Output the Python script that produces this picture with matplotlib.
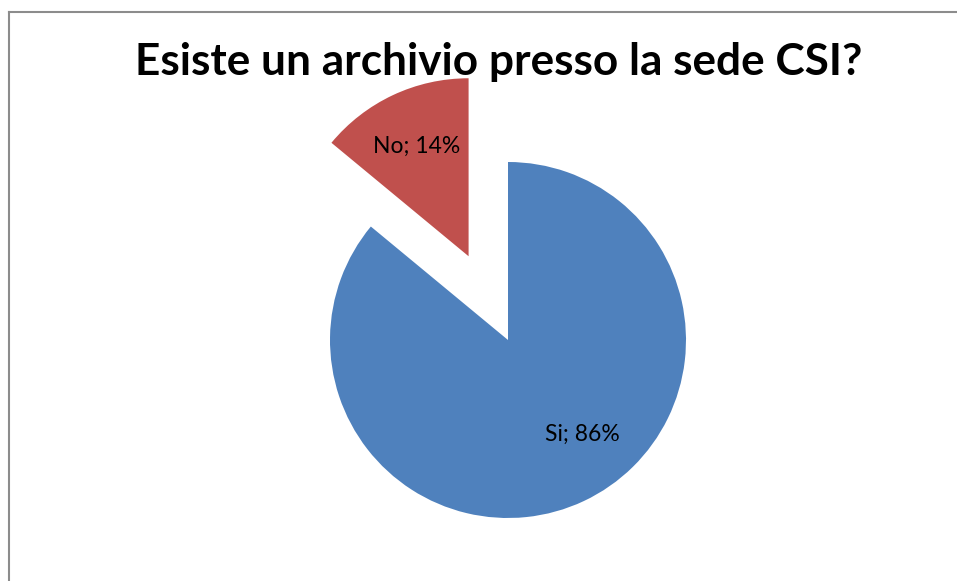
import matplotlib.pyplot as plt
from matplotlib.lines import Line2D

labels = ['Si', 'No']
values = [86, 14]
colors = ['#4F81BD', '#C0504D']
explode = [0, 0.52]

fig = plt.figure(figsize=(9.57, 5.81), dpi=100)
ax = fig.add_axes([0, 0, 1, 1])

wedges, texts = ax.pie(values, colors=colors, explode=explode, startangle=90,
                       counterclock=False, radius=1,
                       labels=[f'{l}; {v}%' for l, v in zip(labels, values)],
                       labeldistance=0.68,
                       textprops=dict(fontsize=16.5, family='Lato', ha='center', va='center'))

# Excel puts the Si label a bit off the middle angle
texts[0].set_position((0.42, -0.53))

sc = 178.0
ax.set_aspect('auto')
ax.set_xlim(-508 / sc, (957 - 508) / sc)
ax.set_ylim(-241 / sc, (581 - 241) / sc)
ax.axis('off')

fig.text(0.521, 0.893, 'Esiste un archivio presso la sede CSI?', ha='center', va='center',
         fontsize=31.8, fontweight='bold', family='Lato')

# chart border (only left and top visible)
fig.add_artist(Line2D([8.5 / 957, 8.5 / 957], [0, 1 - 11.5 / 581], color='#8c8c8c', lw=1.5,
                      transform=fig.transFigure))
fig.add_artist(Line2D([8.5 / 957, 1], [1 - 11.5 / 581, 1 - 11.5 / 581], color='#8c8c8c', lw=1.5,
                      transform=fig.transFigure))

fig.savefig('out.png', dpi=100)
